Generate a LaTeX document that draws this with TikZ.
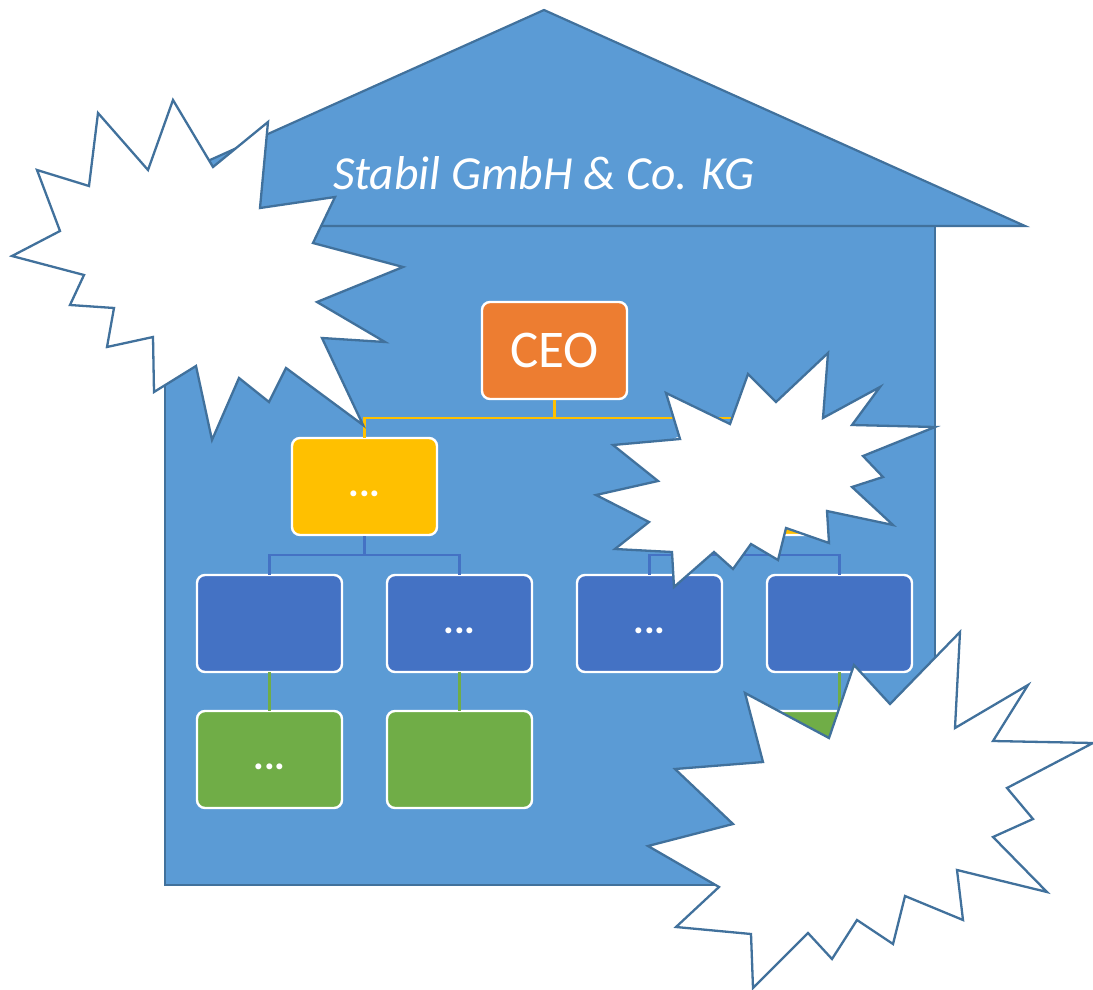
\documentclass[tikz,border=0pt]{standalone}
\usepackage{fontspec}
\setmainfont{Carlito}
\definecolor{house}{HTML}{5B9BD5}
\definecolor{edge}{HTML}{41719C}
\definecolor{ceoc}{HTML}{ED7D31}
\definecolor{yel}{HTML}{FFC000}
\definecolor{blu}{HTML}{4472C4}
\definecolor{grn}{HTML}{70AD47}
\tikzset{
  orgbox/.style={draw=white, line width=2.4pt, rounded corners=8pt, minimum width=145pt, minimum height=97pt, inner sep=0pt, text=white},
  dotstext/.style={font=\bfseries\fontsize{40}{42}\selectfont, text height=20pt, text depth=0pt},
  burst/.style={draw=edge, fill=white, line width=2.3pt, line join=miter},
  hline/.style={line width=2.2pt},
}
\begin{document}
\begin{tikzpicture}[x=1pt,y=-1pt]
\useasboundingbox (0,0) rectangle (1093,990);
% house
\draw[fill=house, draw=edge, line width=2.2pt] (165,226) rectangle (935,885);
\draw[fill=house, draw=edge, line width=2.2pt, line join=miter] (63,226) -- (544,10) -- (1025,226) -- cycle;
\node[text=white, font=\itshape\fontsize{47.5}{52}\selectfont, inner sep=0pt] (title) at (544,173) {Stabil GmbH \& Co. KG};
% boxes
\node[orgbox, fill=ceoc, font=\fontsize{53}{56}\selectfont] (ceo) at (554.5,350.5) {CEO};
\node[orgbox, fill=yel, dotstext] (y1) at (364.5,486.5) {...};
\node[orgbox, fill=yel] (y2) at (744.5,486.5) {};
\node[orgbox, fill=blu] (b1) at (269.5,623.5) {};
\node[orgbox, fill=blu, dotstext] (b2) at (459.5,623.5) {...};
\node[orgbox, fill=blu, dotstext] (b3) at (649.5,623.5) {...};
\node[orgbox, fill=blu] (b4) at (839.5,623.5) {};
\node[orgbox, fill=grn, dotstext] (g1) at (269.5,759.5) {...};
\node[orgbox, fill=grn] (g2) at (459.5,759.5) {};
\node[orgbox, fill=grn] (g4) at (839.5,759.5) {};
% connectors
\coordinate (cj) at (554.5,418);
\draw[yel, hline] (ceo.south) -- (cj) -| ([yshift=-1pt]y1.north);
\draw[yel, hline] (cj) -| ([yshift=-1pt]y2.north);
\coordinate (bj1) at (364.5,555);
\coordinate (bj2) at (744.5,555);
\draw[blu, hline] (y1.south) -- (bj1) -| ([yshift=-1pt]b1.north);
\draw[blu, hline] (bj1) -| ([yshift=-1pt]b2.north);
\draw[blu, hline] (y2.south) -- (bj2) -| ([yshift=-1pt]b3.north);
\draw[blu, hline] (bj2) -| ([yshift=-1pt]b4.north);
\draw[grn, hline] ([yshift=1pt]b1.south) -- ([yshift=-1pt]g1.north);
\draw[grn, hline] ([yshift=1pt]b2.south) -- ([yshift=-1pt]g2.north);
\draw[grn, hline] ([yshift=1pt]b4.south) -- ([yshift=-1pt]g4.north);
% starbursts
\draw[burst] (98,113) -- (148,170) -- (173,100) -- (213,167) -- (268,122) -- (260,208) -- (335,197) -- (313,243) -- (403,267) -- (317,302) -- (385,342) -- (322,338) -- (363,425) -- (286,368) -- (269,402) -- (239,378) -- (212,440) -- (196,366) -- (154,392) -- (153,337) -- (107,347) -- (114,308) -- (70,305) -- (84,275) -- (12,256) -- (60,231) -- (37,170) -- (89,186) -- cycle;
\draw[burst] (666,393) -- (730,424) -- (748,374) -- (776,402) -- (828,353) -- (823,418) -- (880,387) -- (852,425) -- (935,427) -- (863,456) -- (883,477) -- (852,487) -- (893,525) -- (827,511) -- (829,543) -- (786,528) -- (778,560) -- (751,544) -- (733,569) -- (714,552) -- (674,587) -- (672,552) -- (615,549) -- (649,522) -- (596,495) -- (658,481) -- (613,445) -- (680,439) -- cycle;
\draw[burst] (745,693) -- (829,738) -- (854,665) -- (890,704) -- (960,632) -- (955,728) -- (1028,685) -- (993,741) -- (1093,743) -- (1007,788) -- (1033,819) -- (993,837) -- (1047,892) -- (957,870) -- (963,920) -- (905,896) -- (893,944) -- (857,920) -- (832,959) -- (808,933) -- (753,988) -- (751,934) -- (676,927) -- (719,887) -- (648,846) -- (733,824) -- (675,769) -- (763,762) -- cycle;
\end{tikzpicture}
\end{document}
